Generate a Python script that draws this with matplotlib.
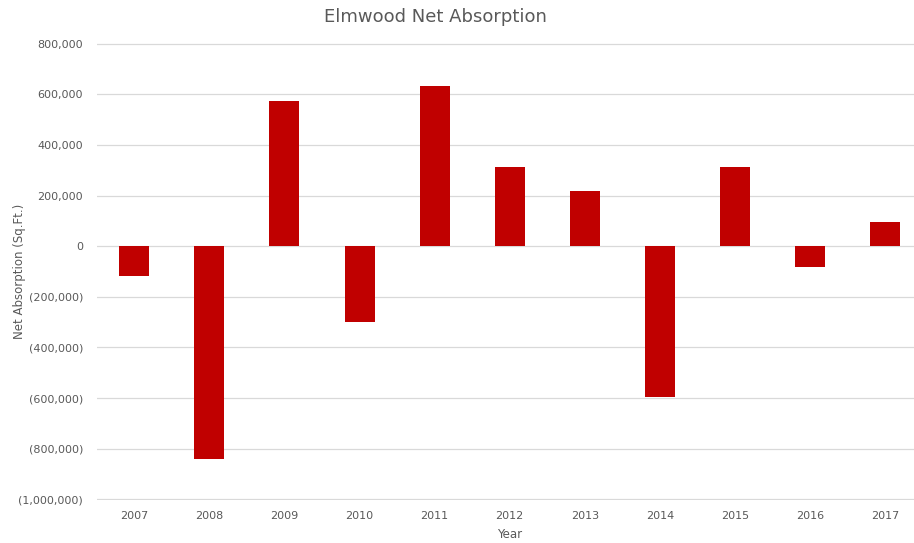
import matplotlib.pyplot as plt
from matplotlib.ticker import FuncFormatter

years = ["2007", "2008", "2009", "2010", "2011", "2012",
         "2013", "2014", "2015", "2016", "2017"]
absorption = [-118000, -840000, 575000, -299000, 635000, 312000,
              217000, -595000, 312000, -82000, 96000]
y_ticks = [-1000000, -800000, -600000, -400000, -200000, 0,
           200000, 400000, 600000, 800000]


def fmt(v, pos):
    # excel accounting style: negatives in brackets
    if v < 0:
        return "({:,.0f})".format(-v)
    return "{:,.0f}".format(v)


plt.rcParams['font.family'] = ['DejaVu Sans']
text_col = "#595959"

fig = plt.figure(figsize=(9.14, 5.43), dpi=100)
ax = fig.add_axes([0.1059, 0.0792, 0.9034, 0.8416])

x = list(range(len(years)))
ax.bar(x, absorption, width=0.4, color="#C00000", zorder=3)

ax.set_xlim(-0.5, len(years) - 0.5)
ax.set_ylim(-1003000, 803000)
ax.set_yticks(y_ticks)
ax.yaxis.set_major_formatter(FuncFormatter(fmt))
ax.set_xticks(x)
ax.set_xticklabels(years)

ax.grid(axis="y", color="#D9D9D9", linewidth=0.9, zorder=0)
for s in ax.spines.values():
    s.set_visible(False)
ax.tick_params(length=0, labelsize=8, colors=text_col, pad=8)
ax.tick_params(axis="y", pad=10)

fig.text(0.476, 0.968, "Elmwood Net Absorption", fontsize=13, color=text_col,
         ha="center", va="center")
fig.text(0.021, 0.50, "Net Absorption (Sq.Ft.)", fontsize=8.5, color=text_col,
         rotation=90, ha="center", va="center")
fig.text(0.557, 0.015, "Year", fontsize=8.5, color=text_col,
         ha="center", va="center")

fig.savefig("out.png", dpi=100)
